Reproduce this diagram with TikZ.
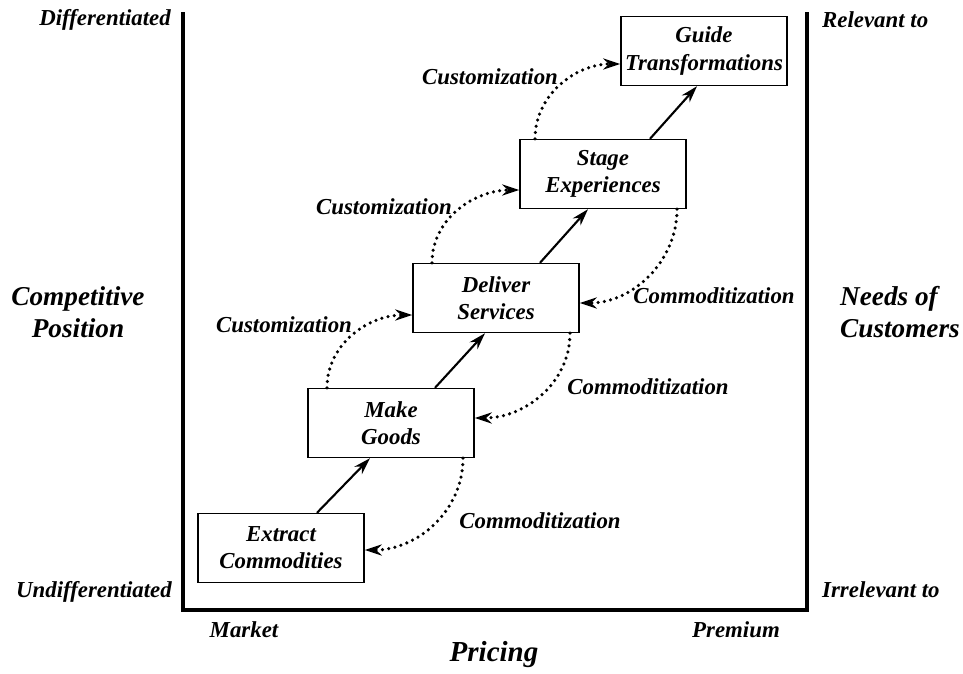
\documentclass[tikz,border=0pt]{standalone}
\usepackage{fontspec}
\setmainfont{Liberation Serif}
\usetikzlibrary{arrows.meta}
\newcommand{\bi}{\bfseries\itshape}
\tikzset{
	stage/.style={draw, line width=0.8pt, minimum width=3.32cm, minimum height=1.38cm,
		inner sep=1pt, align=center, font=\fontsize{13}{15.5}\selectfont\bi},
	growth/.style={line width=1.2pt, -{Stealth[length=0.34cm,width=0.21cm]}},
	drift/.style={line width=2pt, dash pattern=on 0pt off 3.6pt, line cap=round,
		-{Stealth[length=0.34cm,width=0.22cm,line cap=butt]}},
	tag/.style={font=\fontsize{13}{15}\selectfont\bi},
	axislabel/.style={font=\fontsize{15.5}{18.5}\selectfont\bi, align=left}
}

\begin{document}
\begin{tikzpicture}[x=0.02cm, y=-0.02cm]
	\useasboundingbox (0,0) rectangle (963,673);
	\draw[line width=1.8pt] (183,12) -- (183,610) -- (807,610) -- (807,12);

	\node[tag, anchor=east] (diff) at (177,20) {Differentiated};
	\node[tag, anchor=east] (undiff) at (178,592) {Undifferentiated};
	\node[axislabel, align=center] (comp) at (78,312) {Competitive\\Position};
	\node[tag, anchor=west] (rel) at (816,20) {Relevant to};
	\node[tag, anchor=west] (irrel) at (816,590) {Irrelevant to};
	\node[axislabel, anchor=west] (needs) at (834,312) {Needs of\\Customers};
	\node[tag] (market) at (244,630) {Market};
	\node[tag] (premium) at (736,630) {Premium};
	\node[axislabel, font=\fontsize{16.5}{19}\selectfont\bi] (pricing) at (494,655) {Pricing};

	\node[stage] (extract) at (281,548) {Extract\\Commodities};
	\node[stage] (make) at (391,423) {Make\\Goods};
	\node[stage] (deliver) at (496,298) {Deliver\\Services};
	\node[stage] (experience) at (603,174) {Stage\\Experiences};
	\node[stage] (guide) at (704,51) {Guide\\Transformations};

	\draw[growth] ([xshift=36*0.02cm]extract.north) -- ([xshift=-21*0.02cm]make.south);
	\draw[growth] ([xshift=44*0.02cm]make.north) -- ([xshift=-11*0.02cm]deliver.south);
	\draw[growth] ([xshift=44*0.02cm]deliver.north) -- ([xshift=-15*0.02cm]experience.south);
	\draw[growth] ([xshift=47*0.02cm]experience.north) -- ([xshift=-7*0.02cm]guide.south);

	% customization, up the left side
	\draw[drift] ([xshift=-64*0.02cm]make.north) to[out=90, in=180] ([yshift=-17*0.02cm]deliver.west);
	\draw[drift] ([xshift=-64*0.02cm]deliver.north) to[out=90, in=180] ([yshift=-16*0.02cm]experience.west);
	\draw[drift] ([xshift=-68*0.02cm]experience.north) to[out=90, in=180] ([yshift=-13*0.02cm]guide.west);
	\node[tag] (cust1) at (284,325) {Customization};
	\node[tag] (cust2) at (384,207) {Customization};
	\node[tag] (cust3) at (490,77) {Customization};

	% commoditization, down the right side
	\draw[drift] ([xshift=72*0.02cm]make.south) to[out=-90, in=0] ([yshift=-2*0.02cm]extract.east);
	\draw[drift] ([xshift=74*0.02cm]deliver.south) to[out=-90, in=0] ([yshift=5*0.02cm]make.east);
	\draw[drift] ([xshift=74*0.02cm]experience.south) to[out=-90, in=0] ([yshift=-5*0.02cm]deliver.east);
	\node[tag] (comm1) at (540,521) {Commoditization};
	\node[tag] (comm2) at (648,387) {Commoditization};
	\node[tag] (comm3) at (714,296) {Commoditization};
\end{tikzpicture}
\end{document}
